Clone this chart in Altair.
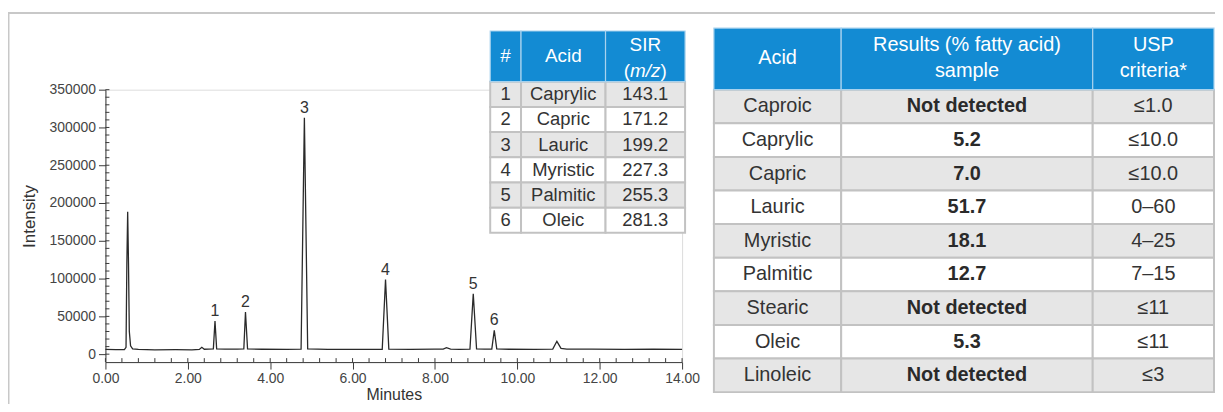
import altair as alt
import pandas as pd

# ---------------- data ----------------
TIME = [0.00, 0.25, 0.46, 0.50, 0.52, 0.54, 0.56, 0.58, 0.61, 0.66, 0.80, 1.20, 1.70, 2.10,
        2.28, 2.34, 2.40, 2.50, 2.62, 2.66, 2.70, 2.90, 3.20, 3.36, 3.40, 3.45, 3.80, 4.40,
        4.75, 4.83, 4.91, 5.40, 6.00, 6.72, 6.80, 6.88, 7.40, 8.00, 8.20, 8.28, 8.38, 8.60,
        8.85, 8.93, 9.01, 9.20, 9.38, 9.44, 9.50, 9.80, 10.40, 10.86, 10.96, 11.06, 11.20,
        11.80, 12.60, 13.30, 14.00]
INTENSITY = [6200, 6000, 6100, 9000, 120000, 188500, 120000, 30000, 11000, 7000, 6300, 5800, 5900, 5700,
             6200, 9000, 6500, 6800, 7000, 43800, 7000, 6800, 6600, 7000, 55700, 7000, 6500, 6300,
             6600, 312800, 7000, 6400, 6200, 6500, 98700, 6800, 6300, 6600, 6800, 8600, 6800, 6400,
             6800, 79900, 7000, 6600, 6800, 31600, 7000, 6500, 6200, 6600, 17000, 7600, 6800,
             6700, 6400, 6500, 6300]

PEAK_LABEL = ["1", "2", "3", "4", "5", "6"]
PEAK_TIME = [2.66, 3.40, 4.83, 6.80, 8.93, 9.44]
PEAK_TOP = [43800, 55700, 312800, 98700, 79900, 31600]

X_TICKS = [0, 2, 4, 6, 8, 10, 12, 14]
Y_TICKS = [0, 50000, 100000, 150000, 200000, 250000, 300000, 350000]
X_MINOR = [round(i * 0.4, 1) for i in range(36)]
Y_MINOR = [i * 10000 for i in range(36)]

SIR_HEAD = ["#", "Acid", "SIR"]
SIR_NUM = ["1", "2", "3", "4", "5", "6"]
SIR_ACID = ["Caprylic", "Capric", "Lauric", "Myristic", "Palmitic", "Oleic"]
SIR_MZ = ["143.1", "171.2", "199.2", "227.3", "255.3", "281.3"]

RES_HEAD = ["Acid", "Results (% fatty acid)\nsample", "USP\ncriteria*"]
RES_ACID = ["Caproic", "Caprylic", "Capric", "Lauric", "Myristic", "Palmitic", "Stearic", "Oleic", "Linoleic"]
RES_VALUE = ["Not detected", "5.2", "7.0", "51.7", "18.1", "12.7", "Not detected", "5.3", "Not detected"]
RES_USP = ["≤1.0", "≤10.0", "≤10.0", "0–60", "4–25", "7–15", "≤11", "≤11", "≤3"]

# ---------------- layout / style ----------------
PLOT_X0, PLOT_Y0 = 106, 89      # page position of the plot-area origin
PLOT_W, PLOT_H = 580, 274
SVG_W, SVG_H = 1214, 396
FONT = "Liberation Sans"
BLUE = "#138bd3"
ROW_GREY = "#e6e6e6"
GRID = "#c2c2c2"
INK = "#333333"
AXIS_INK = "#3a3a3a"

ST_COLS = [493, 524, 609, 689]          # small table column edges (page px)
ST_TOP, ST_HEAD_BOT, ST_ROW = 30, 81, 25.33
ST_FS = 18.5
BT_COLS = [718, 846, 1099, 1221]        # big table column edges (page px)
BT_TOP, BT_HEAD_BOT, BT_ROW = 27, 89, 33.8
BT_FS = 20
BT_LINE_H = 26.7


def rx(px):
    return px - PLOT_X0


def ry(py):
    return py - PLOT_Y0


# ---------------- chromatogram ----------------
xsc = alt.Scale(domain=[0, 14], nice=False, zero=False)
ysc = alt.Scale(domain=[-10500, 350000], nice=False, zero=False)
axis_common = dict(grid=False, tickSize=7, labelPadding=3, labelFlush=False, labelOverlap=False,
                   labelFont=FONT, labelFontSize=14, labelColor="#444444",
                   titleFont=FONT, titleFontWeight="normal", titleColor=INK,
                   domainColor=AXIS_INK, tickColor=AXIS_INK, domainWidth=1, tickWidth=1)
xax = alt.Axis(values=X_TICKS, format=".2f", title="Minutes", titlePadding=1, titleFontSize=16, **axis_common)
yax = alt.Axis(values=Y_TICKS, format="d", title="Intensity", titlePadding=11, titleFontSize=17,
               titleY=ry(216), **axis_common)

trace = pd.DataFrame({"t": TIME, "v": INTENSITY})
peaks = pd.DataFrame({"t": PEAK_TIME, "v": PEAK_TOP, "lab": PEAK_LABEL})

line = alt.Chart(trace).mark_line(color="#2a2a2a", strokeWidth=1.3).encode(
    x=alt.X("t:Q", scale=xsc, axis=xax),
    y=alt.Y("v:Q", scale=ysc, axis=yax),
)
labels = alt.Chart(peaks).mark_text(font=FONT, fontSize=16, color=INK, baseline="alphabetic", dy=-5).encode(
    x=alt.X("t:Q", scale=xsc, axis=xax),
    y=alt.Y("v:Q", scale=ysc, axis=yax),
    text="lab:N",
)
minor_x = alt.Chart(pd.DataFrame({"t": X_MINOR})).mark_rule(color=AXIS_INK, strokeWidth=1).encode(
    x=alt.X("t:Q", scale=xsc, axis=xax),
    y=alt.value(PLOT_H), y2=alt.value(PLOT_H - 4),
)
minor_y = alt.Chart(pd.DataFrame({"v": Y_MINOR})).mark_rule(color=AXIS_INK, strokeWidth=1).encode(
    y=alt.Y("v:Q", scale=ysc, axis=yax),
    x=alt.value(0), x2=alt.value(4),
)
chrom = alt.layer(line, minor_x, minor_y, labels)

# ---------------- tables ----------------
tx = alt.Scale(domain=[0, PLOT_W], nice=False, zero=False)
ty = alt.Scale(domain=[0, PLOT_H], nice=False, zero=False, reverse=True)

head_cells, body_cells, head_txt, body_txt, bold_txt, ital_txt = [], [], [], [], [], []

# small SIR table
for c in range(3):
    head_cells.append(dict(x=rx(ST_COLS[c]), x2=rx(ST_COLS[c + 1]), y=ry(ST_TOP), y2=ry(ST_HEAD_BOT)))
st_cx = [(ST_COLS[c] + ST_COLS[c + 1]) / 2 for c in range(3)]
head_mid = (ST_TOP + ST_HEAD_BOT) / 2
head_txt.append(dict(x=rx(st_cx[0]), y=ry(head_mid), text=SIR_HEAD[0], fs=19))
head_txt.append(dict(x=rx(st_cx[1]), y=ry(head_mid), text=SIR_HEAD[1], fs=19))
head_txt.append(dict(x=rx(st_cx[2]), y=ry(head_mid - 11.5), text=SIR_HEAD[2], fs=19))
head_txt.append(dict(x=rx(st_cx[2] - 18.5), y=ry(head_mid + 14.5), text="(", fs=19))
head_txt.append(dict(x=rx(st_cx[2] + 18.5), y=ry(head_mid + 14.5), text=")", fs=19))
ital_txt.append(dict(x=rx(st_cx[2]), y=ry(head_mid + 14.5), text="m/z", fs=19))
for i in range(len(SIR_NUM)):
    y0 = ST_HEAD_BOT + i * ST_ROW
    fill = ROW_GREY if i % 2 == 0 else "#ffffff"
    for c in range(3):
        body_cells.append(dict(x=rx(ST_COLS[c]), x2=rx(ST_COLS[c + 1]), y=ry(y0), y2=ry(y0 + ST_ROW), fill=fill))
    for c, vals in enumerate([SIR_NUM, SIR_ACID, SIR_MZ]):
        body_txt.append(dict(x=rx(st_cx[c]), y=ry(y0 + ST_ROW / 2), text=vals[i], fs=ST_FS))

# big results table
for c in range(3):
    head_cells.append(dict(x=rx(BT_COLS[c]), x2=rx(BT_COLS[c + 1]), y=ry(BT_TOP), y2=ry(BT_HEAD_BOT)))
bt_cx = [(BT_COLS[c] + BT_COLS[c + 1]) / 2 for c in range(3)]
bt_mid = (BT_TOP + BT_HEAD_BOT) / 2 - 1
for c in range(3):
    n_lines = RES_HEAD[c].count("\n") + 1
    first_line_y = bt_mid - (n_lines - 1) * BT_LINE_H / 2
    head_txt.append(dict(x=rx(bt_cx[c]), y=ry(first_line_y), text=RES_HEAD[c], fs=BT_FS))
for i in range(len(RES_ACID)):
    y0 = BT_HEAD_BOT + i * BT_ROW
    fill = ROW_GREY if i % 2 == 0 else "#ffffff"
    for c in range(3):
        body_cells.append(dict(x=rx(BT_COLS[c]), x2=rx(BT_COLS[c + 1]), y=ry(y0), y2=ry(y0 + BT_ROW), fill=fill))
    cy = ry(y0 + BT_ROW / 2)
    body_txt.append(dict(x=rx(bt_cx[0]), y=cy, text=RES_ACID[i], fs=BT_FS))
    bold_txt.append(dict(x=rx(bt_cx[1]), y=cy, text=RES_VALUE[i], fs=BT_FS))
    body_txt.append(dict(x=rx(bt_cx[2]), y=cy, text=RES_USP[i], fs=BT_FS))


def enc_rect():
    return dict(x=alt.X("x:Q", scale=tx, axis=None), x2="x2:Q",
                y=alt.Y("y:Q", scale=ty, axis=None), y2="y2:Q")


def enc_text():
    return dict(x=alt.X("x:Q", scale=tx, axis=None), y=alt.Y("y:Q", scale=ty, axis=None),
                text="text:N", size=alt.Size("fs:Q", scale=None, legend=None))


head_layer = alt.Chart(pd.DataFrame(head_cells)).mark_rect(fill=BLUE, stroke="#a8d2ee", strokeWidth=1.2).encode(**enc_rect())
body_layer = alt.Chart(pd.DataFrame(body_cells)).mark_rect(stroke=GRID, strokeWidth=2).encode(
    color=alt.Color("fill:N", scale=None, legend=None), **enc_rect())
head_text = alt.Chart(pd.DataFrame(head_txt)).mark_text(
    font=FONT, color="#ffffff", baseline="middle", lineBreak="\n", lineHeight=BT_LINE_H).encode(**enc_text())
ital_text = alt.Chart(pd.DataFrame(ital_txt)).mark_text(
    font=FONT, color="#ffffff", baseline="middle", fontStyle="italic").encode(**enc_text())
body_text = alt.Chart(pd.DataFrame(body_txt)).mark_text(font=FONT, color=INK, baseline="middle").encode(**enc_text())
bold_text = alt.Chart(pd.DataFrame(bold_txt)).mark_text(
    font=FONT, color="#2a2a2a", baseline="middle", fontWeight="bold").encode(**enc_text())

# outer frame (decoration)
one = pd.DataFrame({"k": [0]})
frame_top = alt.Chart(one).mark_rule(color="#c8c8c8", strokeWidth=2).encode(
    x=alt.value(rx(7)), x2=alt.value(rx(1223)), y=alt.value(ry(12)))
frame_left = alt.Chart(one).mark_rule(color="#c8c8c8", strokeWidth=2).encode(
    x=alt.value(rx(8.5)), y=alt.value(ry(12)), y2=alt.value(ry(412)))

tables = alt.layer(frame_top, frame_left, body_layer, head_layer, head_text, ital_text, body_text, bold_text)

chart = alt.layer(chrom, tables).resolve_scale(x="independent", y="independent").properties(
    width=PLOT_W, height=PLOT_H,
    autosize=alt.AutoSizeParams(type="none"),
    padding={"left": PLOT_X0 - 8, "top": PLOT_Y0 - 8,
             "right": SVG_W - (PLOT_X0 - 8) - PLOT_W, "bottom": SVG_H - (PLOT_Y0 - 8) - PLOT_H},
    background="white",
).configure_view(stroke=None).configure(font=FONT)

chart.save("out.html", embed_options={"renderer": "svg", "actions": False})
